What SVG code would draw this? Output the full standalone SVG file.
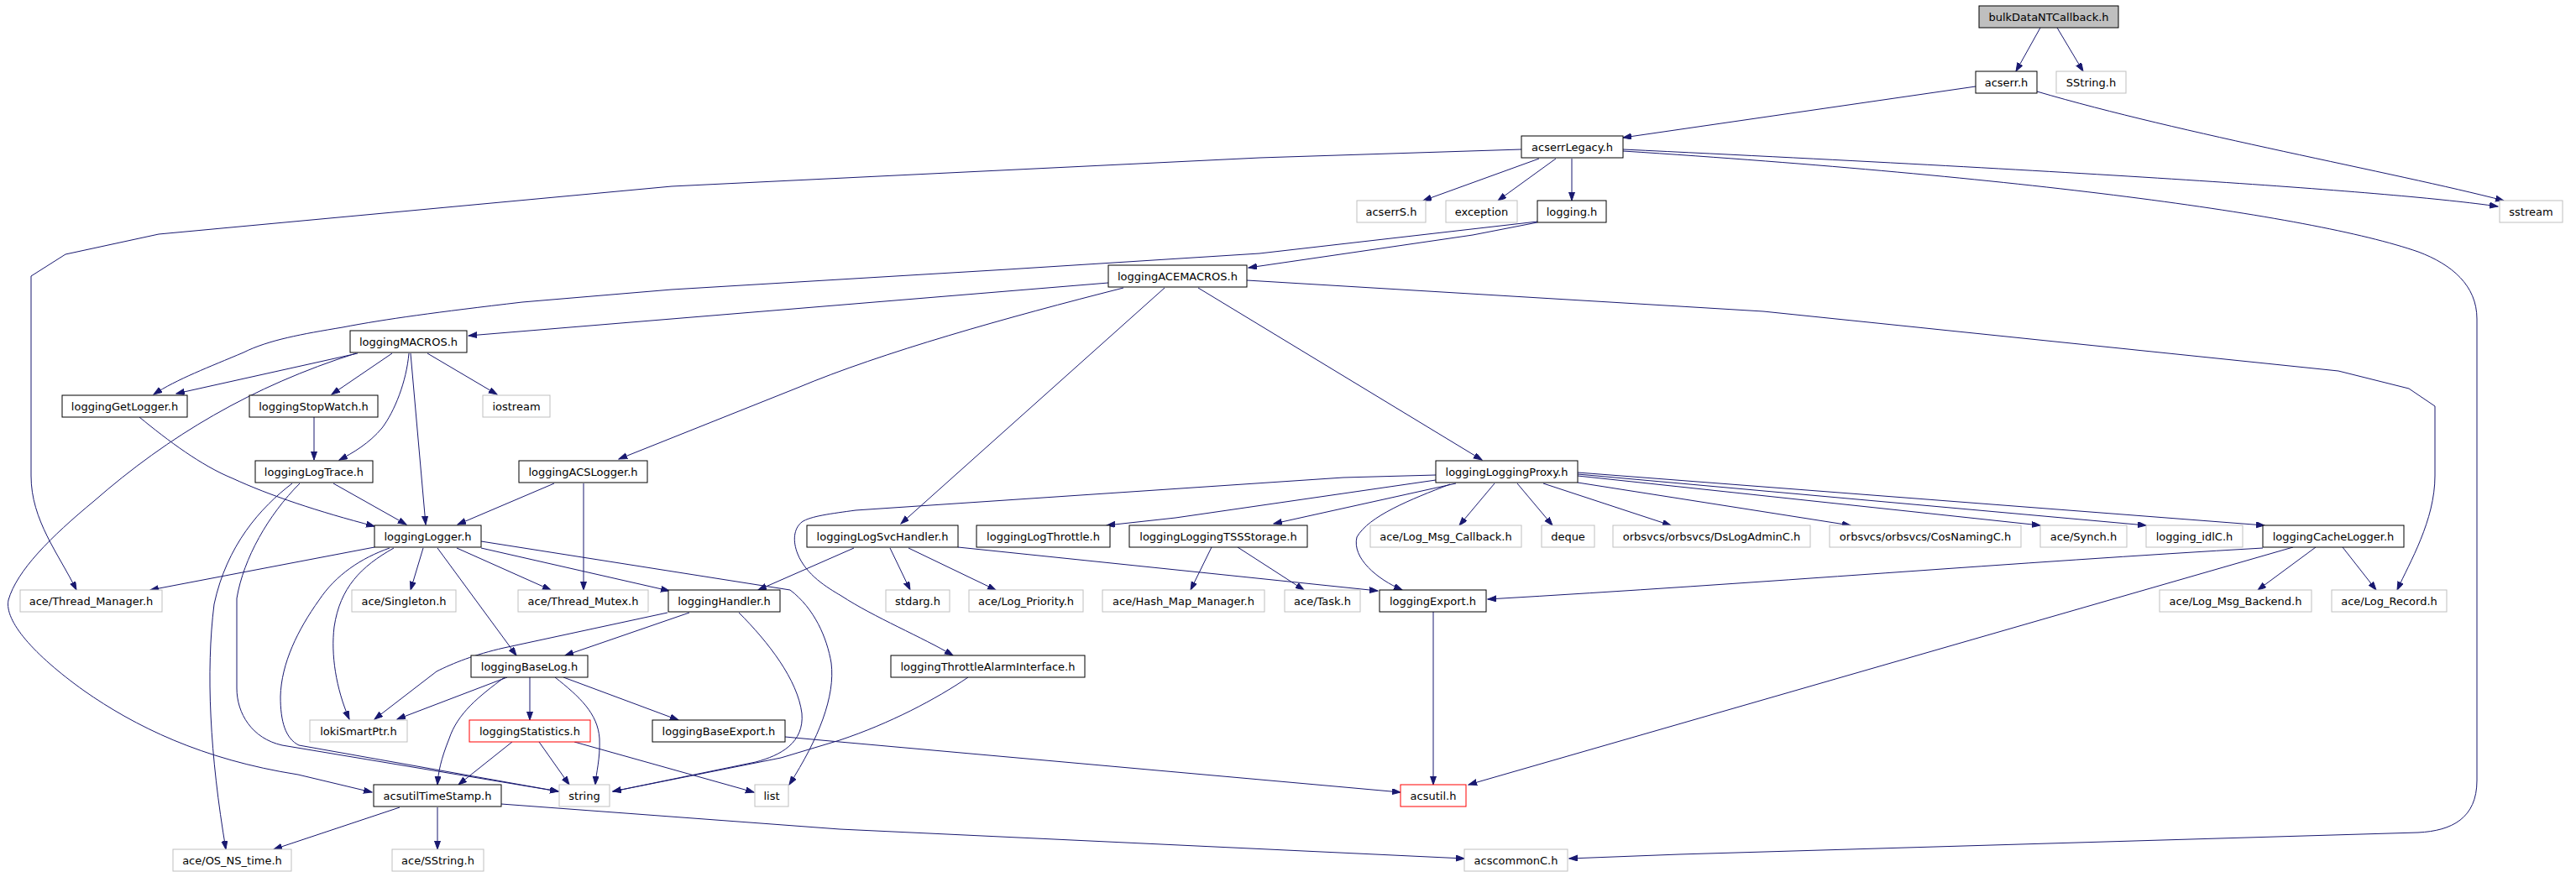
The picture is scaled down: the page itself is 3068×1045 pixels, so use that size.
<svg xmlns="http://www.w3.org/2000/svg" width="3068" height="1045" viewBox="0 0 3068 1045">
<style>
rect{fill:#fff;stroke:#000;stroke-width:1}
.g rect{stroke:#bfbfbf}
.r rect{stroke:#f00}
.root rect{fill:#bfbfbf}
text{font-family:"DejaVu Sans","Liberation Sans",sans-serif;font-size:13px;text-anchor:middle;fill:#000}
#edges path{fill:none;stroke:#191970;stroke-width:1;marker-end:url(#a)}
</style>
<defs>
<marker id="a" markerUnits="userSpaceOnUse" markerWidth="11" markerHeight="8" refX="10" refY="3.5" orient="auto"><path d="M0,0 L10,3.5 L0,7 z" fill="#191970" stroke="#191970"/></marker>
</defs>
<rect x="0" y="0" width="3068" height="1045" style="fill:#fff;stroke:none"/>
<g id="edges">
<path d="M2430,33 L2401,85"/>
<path d="M2450,33 L2481,85"/>
<path d="M2353,103 L1933,164"/>
<path d="M2426,109 C2600,160 2850,205 2982,239"/>
<path d="M1833,189 L1695,239"/>
<path d="M1853,189 L1784,239"/>
<path d="M1872,189 L1872,239"/>
<path d="M1812,178 L1500,188 L800,222 L189,279 L78,303 L37,329 L37,567 C37,620 70,660 91,703"/>
<path d="M1933,178 C2500,205 2850,228 2975,246"/>
<path d="M1933,180 C2400,210 2750,255 2880,300 C2920,315 2950,340 2950,380 L2950,930 C2950,975 2920,990 2880,992 L2000,1018 L1869,1023"/>
<path d="M1831,265 L1754,280 L1487,319"/>
<path d="M1831,264 L1500,302 L1200,321 L800,345 L622,360 C520,372 460,380 408,390 C360,398 320,405 290,420 C250,437 210,452 183,470"/>
<path d="M1320,337 L558,400"/>
<path d="M1338,343 C1200,378 1050,420 950,462 L737,547"/>
<path d="M1387,343 L1073,624"/>
<path d="M1427,343 L1765,548"/>
<path d="M1485,334 L2100,371 L2785,442 L2869,463 L2900,484 L2900,567 C2900,620 2870,670 2855,703"/>
<path d="M426,421 L210,469"/>
<path d="M424,421 C300,460 200,520 112,597 C60,640 20,680 10,715 C5,740 40,780 100,823 C160,865 240,905 355,923 L443,944"/>
<path d="M467,421 L395,470"/>
<path d="M487,421 C484,455 470,490 455,510 C440,528 420,540 404,548"/>
<path d="M489,421 L507,625"/>
<path d="M509,421 L592,470"/>
<path d="M166,497 C200,525 240,555 277,570 C320,590 380,610 446,627"/>
<path d="M374,497 L374,548"/>
<path d="M397,576 L484,625"/>
<path d="M348,576 C310,605 270,650 255,720 C245,800 250,900 269,1012"/>
<path d="M357,576 C320,613 290,665 282,713 L282,820 C282,850 300,880 336,888 L665,943"/>
<path d="M464,653 C430,665 400,685 380,715 C355,750 335,790 334,830 C334,860 340,880 356,888 L665,943"/>
<path d="M469,653 C430,675 405,700 398,747 C394,780 400,820 416,857"/>
<path d="M446,652 L179,703"/>
<path d="M504,653 L489,703"/>
<path d="M521,653 L615,781"/>
<path d="M544,653 L656,703"/>
<path d="M573,653 L797,704"/>
<path d="M573,645 L941,703 C970,725 985,760 990,790 C995,830 975,880 940,935"/>
<path d="M660,576 L545,625"/>
<path d="M695,576 L695,703"/>
<path d="M1710,566 L1600,569 L1019,608 C990,612 965,615 955,622 C945,630 944,645 950,660 C960,685 985,700 1002,710 C1040,735 1100,760 1135,781"/>
<path d="M1710,572 L1400,617 L1318,626"/>
<path d="M1734,576 L1517,624"/>
<path d="M1727,577 C1680,595 1630,615 1616,640 C1610,665 1640,690 1670,703"/>
<path d="M1780,576 L1738,626"/>
<path d="M1807,576 L1849,626"/>
<path d="M1838,576 L1990,626"/>
<path d="M1879,575 L2204,626"/>
<path d="M1879,567 L2430,626"/>
<path d="M1879,565 L2556,626"/>
<path d="M1879,563 L2697,626"/>
<path d="M1017,653 L903,703"/>
<path d="M1060,653 L1084,703"/>
<path d="M1082,653 L1186,703"/>
<path d="M1141,652 L1641,704"/>
<path d="M1443,652 L1418,703"/>
<path d="M1474,652 L1553,703"/>
<path d="M2695,653 C2400,670 2100,695 1772,714"/>
<path d="M2731,652 L1749,935"/>
<path d="M2758,652 L2689,703"/>
<path d="M2790,652 L2830,703"/>
<path d="M1707,729 L1707,935"/>
<path d="M821,730 L673,781"/>
<path d="M795,730 L600,772 C565,780 540,790 520,800 L446,857"/>
<path d="M880,730 C915,765 950,810 955,850 C958,885 930,900 900,908 L730,943"/>
<path d="M1153,807 C1115,833 1060,862 1000,882 L930,903 L730,943"/>
<path d="M604,807 L473,857"/>
<path d="M601,807 C570,830 545,850 535,880 C525,905 522,920 521,935"/>
<path d="M631,807 L631,858"/>
<path d="M661,807 C690,830 712,850 714,880 C715,905 710,920 709,935"/>
<path d="M671,807 L808,858"/>
<path d="M935,878 L1000,884 L1668,944"/>
<path d="M610,884 L546,935"/>
<path d="M642,884 L678,935"/>
<path d="M684,884 L898,944"/>
<path d="M476,962 L326,1012"/>
<path d="M521,962 L521,1012"/>
<path d="M597,958 L1000,988 L1744,1023"/>
</g>
<g id="n_bulk" class="root"><rect x="2357" y="7" width="166" height="26"/><text x="2440" y="24.5">bulkDataNTCallback.h</text></g>
<g id="n_acserr"><rect x="2353" y="85" width="73" height="26"/><text x="2389.5" y="102.5">acserr.h</text></g>
<g id="n_SString" class="g"><rect x="2449" y="85" width="83" height="26"/><text x="2490.5" y="102.5">SString.h</text></g>
<g id="n_acserrLegacy"><rect x="1812" y="162" width="121" height="26"/><text x="1872.5" y="179.5">acserrLegacy.h</text></g>
<g id="n_acserrS" class="g"><rect x="1616" y="239" width="82" height="26"/><text x="1657" y="256.5">acserrS.h</text></g>
<g id="n_exception" class="g"><rect x="1722" y="239" width="85" height="26"/><text x="1764.5" y="256.5">exception</text></g>
<g id="n_logging"><rect x="1831" y="239" width="82" height="26"/><text x="1872" y="256.5">logging.h</text></g>
<g id="n_sstream" class="g"><rect x="2977" y="239" width="75" height="26"/><text x="3014.5" y="256.5">sstream</text></g>
<g id="n_ACEMACROS"><rect x="1320" y="316" width="165" height="26"/><text x="1402.5" y="333.5">loggingACEMACROS.h</text></g>
<g id="n_MACROS"><rect x="417" y="394" width="139" height="26"/><text x="486.5" y="411.5">loggingMACROS.h</text></g>
<g id="n_GetLogger"><rect x="74" y="471" width="149" height="26"/><text x="148.5" y="488.5">loggingGetLogger.h</text></g>
<g id="n_StopWatch"><rect x="297" y="471" width="153" height="26"/><text x="373.5" y="488.5">loggingStopWatch.h</text></g>
<g id="n_iostream" class="g"><rect x="575" y="471" width="80" height="26"/><text x="615" y="488.5">iostream</text></g>
<g id="n_LogTrace"><rect x="304" y="549" width="140" height="26"/><text x="374" y="566.5">loggingLogTrace.h</text></g>
<g id="n_ACSLogger"><rect x="618" y="549" width="153" height="26"/><text x="694.5" y="566.5">loggingACSLogger.h</text></g>
<g id="n_LoggingProxy"><rect x="1710" y="549" width="169" height="26"/><text x="1794.5" y="566.5">loggingLoggingProxy.h</text></g>
<g id="n_Logger"><rect x="446" y="626" width="127" height="26"/><text x="509.5" y="643.5">loggingLogger.h</text></g>
<g id="n_LogSvcHandler"><rect x="961" y="626" width="180" height="26"/><text x="1051" y="643.5">loggingLogSvcHandler.h</text></g>
<g id="n_LogThrottle"><rect x="1163" y="626" width="159" height="26"/><text x="1242.5" y="643.5">loggingLogThrottle.h</text></g>
<g id="n_TSS"><rect x="1345" y="626" width="212" height="26"/><text x="1451" y="643.5">loggingLoggingTSSStorage.h</text></g>
<g id="n_LogMsgCallback" class="g"><rect x="1632" y="626" width="180" height="26"/><text x="1722" y="643.5">ace/Log_Msg_Callback.h</text></g>
<g id="n_deque" class="g"><rect x="1836" y="626" width="63" height="26"/><text x="1867.5" y="643.5">deque</text></g>
<g id="n_DsLog" class="g"><rect x="1921" y="626" width="235" height="26"/><text x="2038.5" y="643.5">orbsvcs/orbsvcs/DsLogAdminC.h</text></g>
<g id="n_CosNaming" class="g"><rect x="2179" y="626" width="228" height="26"/><text x="2293" y="643.5">orbsvcs/orbsvcs/CosNamingC.h</text></g>
<g id="n_Synch" class="g"><rect x="2430" y="626" width="103" height="26"/><text x="2481.5" y="643.5">ace/Synch.h</text></g>
<g id="n_idlC" class="g"><rect x="2556" y="626" width="115" height="26"/><text x="2613.5" y="643.5">logging_idlC.h</text></g>
<g id="n_CacheLogger"><rect x="2695" y="626" width="168" height="26"/><text x="2779" y="643.5">loggingCacheLogger.h</text></g>
<g id="n_ThreadManager" class="g"><rect x="24" y="703" width="169" height="26"/><text x="108.5" y="720.5">ace/Thread_Manager.h</text></g>
<g id="n_Singleton" class="g"><rect x="419" y="703" width="124" height="26"/><text x="481" y="720.5">ace/Singleton.h</text></g>
<g id="n_ThreadMutex" class="g"><rect x="617" y="703" width="155" height="26"/><text x="694.5" y="720.5">ace/Thread_Mutex.h</text></g>
<g id="n_Handler"><rect x="796" y="703" width="133" height="26"/><text x="862.5" y="720.5">loggingHandler.h</text></g>
<g id="n_stdarg" class="g"><rect x="1055" y="703" width="76" height="26"/><text x="1093" y="720.5">stdarg.h</text></g>
<g id="n_LogPriority" class="g"><rect x="1154" y="703" width="136" height="26"/><text x="1222" y="720.5">ace/Log_Priority.h</text></g>
<g id="n_HashMap" class="g"><rect x="1313" y="703" width="193" height="26"/><text x="1409.5" y="720.5">ace/Hash_Map_Manager.h</text></g>
<g id="n_Task" class="g"><rect x="1530" y="703" width="90" height="26"/><text x="1575" y="720.5">ace/Task.h</text></g>
<g id="n_Export"><rect x="1643" y="703" width="127" height="26"/><text x="1706.5" y="720.5">loggingExport.h</text></g>
<g id="n_LogMsgBackend" class="g"><rect x="2572" y="703" width="181" height="26"/><text x="2662.5" y="720.5">ace/Log_Msg_Backend.h</text></g>
<g id="n_LogRecord" class="g"><rect x="2777" y="703" width="137" height="26"/><text x="2845.5" y="720.5">ace/Log_Record.h</text></g>
<g id="n_BaseLog"><rect x="561" y="781" width="139" height="26"/><text x="630.5" y="798.5">loggingBaseLog.h</text></g>
<g id="n_ThrottleAlarm"><rect x="1061" y="781" width="231" height="26"/><text x="1176.5" y="798.5">loggingThrottleAlarmInterface.h</text></g>
<g id="n_loki" class="g"><rect x="369" y="858" width="116" height="26"/><text x="427" y="875.5">lokiSmartPtr.h</text></g>
<g id="n_Statistics" class="r"><rect x="559" y="858" width="144" height="26"/><text x="631" y="875.5">loggingStatistics.h</text></g>
<g id="n_BaseExport"><rect x="777" y="858" width="158" height="26"/><text x="856" y="875.5">loggingBaseExport.h</text></g>
<g id="n_TimeStamp"><rect x="445" y="935" width="152" height="26"/><text x="521" y="952.5">acsutilTimeStamp.h</text></g>
<g id="n_string" class="g"><rect x="666" y="935" width="60" height="26"/><text x="696" y="952.5">string</text></g>
<g id="n_list" class="g"><rect x="899" y="935" width="40" height="26"/><text x="919" y="952.5">list</text></g>
<g id="n_acsutil" class="r"><rect x="1668" y="935" width="78" height="26"/><text x="1707" y="952.5">acsutil.h</text></g>
<g id="n_OSNStime" class="g"><rect x="206" y="1012" width="141" height="26"/><text x="276.5" y="1029.5">ace/OS_NS_time.h</text></g>
<g id="n_aceSString" class="g"><rect x="467" y="1012" width="109" height="26"/><text x="521.5" y="1029.5">ace/SString.h</text></g>
<g id="n_acscommonC" class="g"><rect x="1744" y="1012" width="123" height="26"/><text x="1805.5" y="1029.5">acscommonC.h</text></g>
</svg>
